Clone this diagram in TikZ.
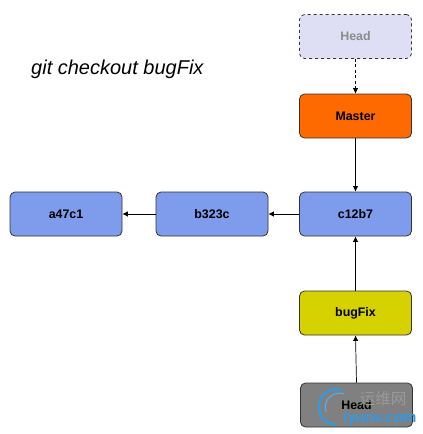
\documentclass[tikz,border=0pt]{standalone}
\usepackage{fontspec}
\setmainfont{Liberation Sans}
\newfontfamily\cjkwm{Noto Sans CJK SC}
\usetikzlibrary{arrows.meta}
\definecolor{blueN}{HTML}{7F9BEC}
\definecolor{orangeN}{HTML}{FF6A00}
\definecolor{yellowN}{HTML}{D6D100}
\definecolor{greyN}{HTML}{808080}
\definecolor{lilacN}{HTML}{DEDEF4}
\definecolor{edgeN}{HTML}{333333}
\definecolor{wmBlue}{HTML}{2E9BE6}
\tikzset{
  x=1pt,y=-1pt,
  box/.style={draw=edgeN,line width=0.8pt,rounded corners=5pt,minimum width=112pt,minimum height=44pt,inner sep=0pt,font=\bfseries\fontsize{12.4}{14}\selectfont,text=black,anchor=center},
  ghost/.style={box,dashed,fill=lilacN,text=black!45},
  link/.style={draw=black,line width=0.7pt,-{Latex[length=5.5pt,width=5.5pt]}},
  ghostlink/.style={link,dash pattern=on 3pt off 2.5pt},
}
\begin{document}
\begin{tikzpicture}
\useasboundingbox (0,0) rectangle (423,434);
\node[ghost] (headtop) at (355.5,36.5) {Head};
\node[box,fill=orangeN] (master) at (355.5,116) {Master};
\node[box,fill=blueN] (c) at (355.5,214) {c12b7};
\node[box,fill=blueN] (b) at (212,214) {b323c};
\node[box,fill=blueN] (a) at (66,214) {a47c1};
\node[box,fill=yellowN] (bug) at (355.5,313) {bugFix};
\node[box,fill=greyN] (head) at (356.5,405) {Head};
\node[anchor=west,inner sep=0pt,font=\itshape\fontsize{20}{23}\selectfont,text=black] (title) at (31,69) {git checkout bugFix};
\draw[ghostlink] (headtop) -- (master);
\draw[link] (master) -- (c);
\draw[link] (c) -- (b);
\draw[link] (b) -- (a);
\draw[link] (bug) -- (c);
\draw[link] (head.north) -- (bug.south);
\draw[wmBlue,line width=2.2pt] (341,389.5) arc[start angle=-77,end angle=-265,radius=18];
\draw[wmBlue!80,line width=1pt] (344,394) arc[start angle=-70,end angle=-200,radius=14];
\node[font=\cjkwm\fontsize{15.5}{17}\selectfont,text=black!40,anchor=center] (wm1) at (383,399) {运维网};
\node[font=\bfseries\fontsize{15}{17}\selectfont,text=wmBlue,anchor=center] (wm2) at (380,418.5) {iyunv.com};
\end{tikzpicture}
\end{document}
